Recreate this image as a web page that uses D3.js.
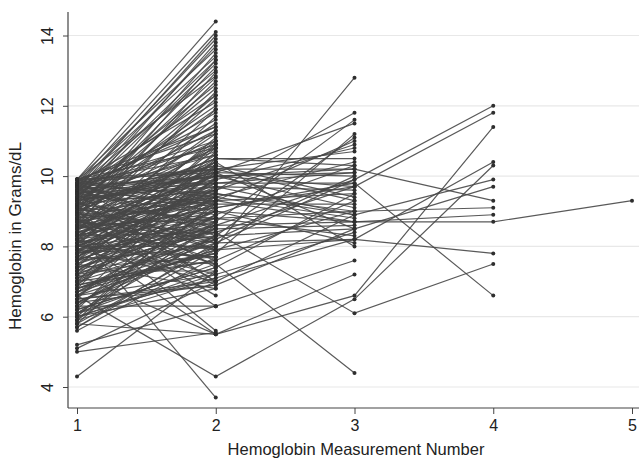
<!DOCTYPE html>
<html><head><meta charset="utf-8">
<script src="https://cdn.jsdelivr.net/npm/d3@7"></script>
<style>body{margin:0;background:#fff}svg{display:block}text{font-family:"Liberation Sans",Arial,sans-serif;fill:#222}</style>
</head><body><svg id="c" width="639" height="460"></svg>
<script>
// measurement numbers and tick labels
const xTicks = [1, 2, 3, 4, 5];
const yTicks = [4, 6, 8, 10, 12, 14];
// subjects with two measurements [m1, m2]
const twoVisits = [
 [9.9,14.4],[9.8,14.1],[9.6,14.0],[9.7,13.9],[9.3,13.8],[9.5,13.7],[9.0,13.5],[9.8,13.4],[8.8,13.3],[9.4,13.2],
 [9.1,13.1],[8.6,12.95],[9.9,12.85],[8.9,12.7],[9.2,12.5],[8.4,12.4],[9.6,12.3],[8.7,12.2],[9.3,12.0],[8.2,11.9],
 [9.5,11.8],[8.0,11.7],[9.7,11.4],[8.5,11.3],[9.9,11.2],[7.8,11.1],[9.2,11.0],[8.1,11.0],[9.6,10.9],[7.4,10.9],
 [8.8,10.8],[9.9,10.8],[7.0,10.7],[9.4,10.7],[8.3,10.6],[9.8,10.6],[6.8,10.5],[9.1,10.5],[8.6,10.4],[7.7,10.4],
 [9.5,10.3],[6.5,10.3],[8.9,10.2],[9.9,10.2],[7.2,10.1],[8.0,10.1],[9.6,10.0],[6.2,10.0],[8.7,10.0],[9.3,9.9],
 [7.5,9.9],[8.4,9.8],[9.8,9.8],[6.9,9.7],[9.0,9.7],[7.9,9.6],[8.2,9.6],[9.7,9.5],[6.0,9.5],[8.5,9.4],
 [7.3,9.4],[9.4,9.3],[5.8,9.3],[8.8,9.2],[7.6,9.2],[9.9,9.1],[6.6,9.1],[8.1,9.0],[7.1,9.0],[9.5,8.9],
 [6.3,8.9],[8.6,8.8],[7.8,8.8],[9.2,8.7],[5.9,8.7],[7.4,8.6],[8.9,8.6],[6.7,8.5],[9.6,8.5],[7.9,8.4],
 [8.3,8.4],[6.1,8.3],[9.8,8.3],[7.0,8.2],[8.7,8.2],[5.7,8.1],[9.1,8.1],[7.6,8.0],[6.4,8.0],[8.4,7.9],
 [9.4,7.9],[6.8,7.8],[7.2,7.8],[8.0,7.7],[5.6,7.7],[9.0,7.6],[6.9,7.6],[7.7,7.5],[8.6,7.5],[6.2,7.4],
 [9.7,7.4],[7.3,7.3],[4.3,7.3],[8.2,7.2],[6.6,7.2],[5.9,7.1],[7.9,7.0],[9.3,7.0],[6.5,6.9],[8.8,6.9],
 [7.5,6.8],[6.0,6.8],[9.5,7.0],[8.9,6.6],[9.0,6.3],[5.2,6.3],[8.2,5.5],[5.0,5.55],[8.8,5.6],[5.1,7.0],
 [8.4,3.7],[9.3,10.1],[9.0,9.4],[8.5,10.9],[9.7,9.0],[7.1,8.5],[8.3,9.1],[6.7,7.9],[9.2,9.6],[7.8,10.3],
 [8.1,8.7],[9.5,10.6],[6.4,8.2],[8.7,9.5],[7.4,7.7],[9.8,11.0],[8.0,9.3],[6.1,7.5],[9.1,8.2],[7.7,9.8],
 [9.9,13.6],[9.7,13.0],[9.4,12.6],[9.8,12.1],[9.1,11.9],[9.6,11.6],[9.2,12.8],[9.5,13.3],[8.9,11.5],[9.0,12.3],
 [9.9,11.4],[9.3,11.3],[8.6,11.2],[9.7,10.9],[7.6,10.8],[8.2,10.5],[6.9,10.2],[9.4,10.0],[7.3,9.9],[5.9,9.6],
 [8.8,9.9],[6.3,9.2],[9.8,9.4],[7.5,9.0],[6.6,8.7],[8.0,8.5],[9.1,8.8],[6.8,8.3],[5.7,7.9],[7.9,7.7],
 [9.6,9.2],[6.1,8.6],[8.3,10.4],[7.0,9.3],[9.2,10.3],[5.8,8.0],[8.5,9.0],[7.2,8.9],[6.0,7.3],[9.0,10.8]
];
// subjects with three measurements [m1, m2, m3]
const threeVisits = [
 [8.0,8.0,12.8],[8.8,9.6,11.8],[7.5,8.7,11.6],[9.2,10.1,11.5],[6.9,7.8,11.2],[8.3,9.3,11.0],[7.7,9.9,10.8],
 [9.6,10.2,10.7],[9.0,10.5,10.5],[6.7,8.9,10.3],[8.5,10.0,10.1],[7.1,8.2,10.0],[9.4,9.7,9.6],[6.2,7.4,9.5],
 [8.1,10.3,9.4],[7.9,9.2,9.2],[9.7,10.0,9.1],[6.5,7.0,8.9],[8.6,9.4,8.8],[7.3,8.5,8.6],[9.9,10.1,8.5],
 [6.0,7.2,8.4],[8.2,8.8,8.3],[7.6,9.0,8.1],[9.1,10.4,8.0],[6.3,6.3,7.6],[5.8,5.5,7.2],[8.8,7.5,4.4],
 [7.0,7.6,9.3],[8.4,9.5,9.0],
 [8.3,10.2,10.2],[7.6,10.1,10.0],[9.0,10.5,10.3],[6.8,8.1,9.9],[8.9,9.1,9.8],[7.4,8.4,9.7],[9.5,9.8,10.1],
 [6.6,7.9,9.0],[8.7,9.3,9.5],[7.2,8.6,8.7],[9.8,10.2,9.3],[6.1,7.1,8.2],[8.5,9.6,10.9],[7.8,8.3,11.1],
 [9.3,10.0,9.7],[6.4,6.9,8.5],[8.0,9.7,8.9],[7.7,9.4,10.4]
];
// subjects with four measurements
const fourVisits = [
 [7.8,8.6,9.9,12.0],[8.4,9.1,9.7,11.8],[7.2,5.5,6.6,11.4],[6.6,4.3,6.5,10.3],[9.1,7.9,8.2,10.4],
 [8.0,9.5,8.9,9.9],[6.4,8.3,8.5,9.7],[9.5,10.0,10.2,9.3],[7.4,8.8,9.0,9.1],[8.9,9.3,8.7,8.9],
 [8.6,8.1,8.2,7.8],[8.7,8.4,6.1,7.5],[9.3,9.8,9.8,6.6]
];
// subject with five measurements
const fiveVisits = [
 [7.6,9.0,8.7,8.7,9.3]
];

const subjects = [...twoVisits, ...threeVisits, ...fourVisits, ...fiveVisits];
const svg = d3.select("#c");
const x = d3.scaleLinear().domain([1,5]).range([77,632]);
const y = d3.scaleLinear().domain([4,14]).range([387,35.5]);

// gridlines
svg.append("g").selectAll("line").data(yTicks).join("line")
  .attr("x1",68).attr("x2",639).attr("y1",d=>y(d)).attr("y2",d=>y(d))
  .attr("stroke","#e8e8e8").attr("stroke-width",1.2);

// lines
const line = d3.line().x((d,i)=>x(i+1)).y(d=>y(d));
svg.append("g").selectAll("path").data(subjects).join("path")
  .attr("d",line).attr("fill","none").attr("stroke","#474747").attr("stroke-width",1.2).attr("stroke-opacity",0.9);

// points
const pts = subjects.flatMap(s=>s.map((v,i)=>({m:i+1,v})));
svg.append("g").selectAll("circle").data(pts).join("circle")
  .attr("cx",d=>x(d.m)).attr("cy",d=>y(d.v)).attr("r",2).attr("fill","#2e2e2e");

// axes
const ax = svg.append("g").attr("transform","translate(68,0)")
  .call(d3.axisLeft(y).tickValues(yTicks).tickSize(5).tickFormat(d3.format("d")));
ax.select(".domain").remove();
ax.selectAll("line").attr("stroke","#444");
ax.selectAll("text").attr("transform","translate(-21,0) rotate(-90)").attr("x",0).attr("y",0).attr("dy","0.35em")
  .attr("text-anchor","middle").style("font-size","16px").attr("fill","#222");
svg.append("line").attr("x1",68).attr("x2",68).attr("y1",12).attr("y2",408).attr("stroke","#444").attr("stroke-width",1.2);

const bx = svg.append("g").attr("transform","translate(0,408)")
  .call(d3.axisBottom(x).tickValues(xTicks).tickSize(6).tickFormat(d3.format("d")));
bx.select(".domain").remove();
bx.selectAll("line").attr("stroke","#444");
bx.selectAll("text").attr("y",12).style("font-size","16px").attr("fill","#222");
svg.append("line").attr("x1",68).attr("x2",639).attr("y1",408).attr("y2",408).attr("stroke","#444").attr("stroke-width",1.2);

svg.append("text").attr("x",356).attr("y",455).attr("text-anchor","middle").style("font-size","16.5px").text("Hemoglobin Measurement Number");
svg.append("text").attr("transform","translate(21,236) rotate(-90)").attr("text-anchor","middle").style("font-size","17px").text("Hemoglobin in Grams/dL");
</script></body></html>
